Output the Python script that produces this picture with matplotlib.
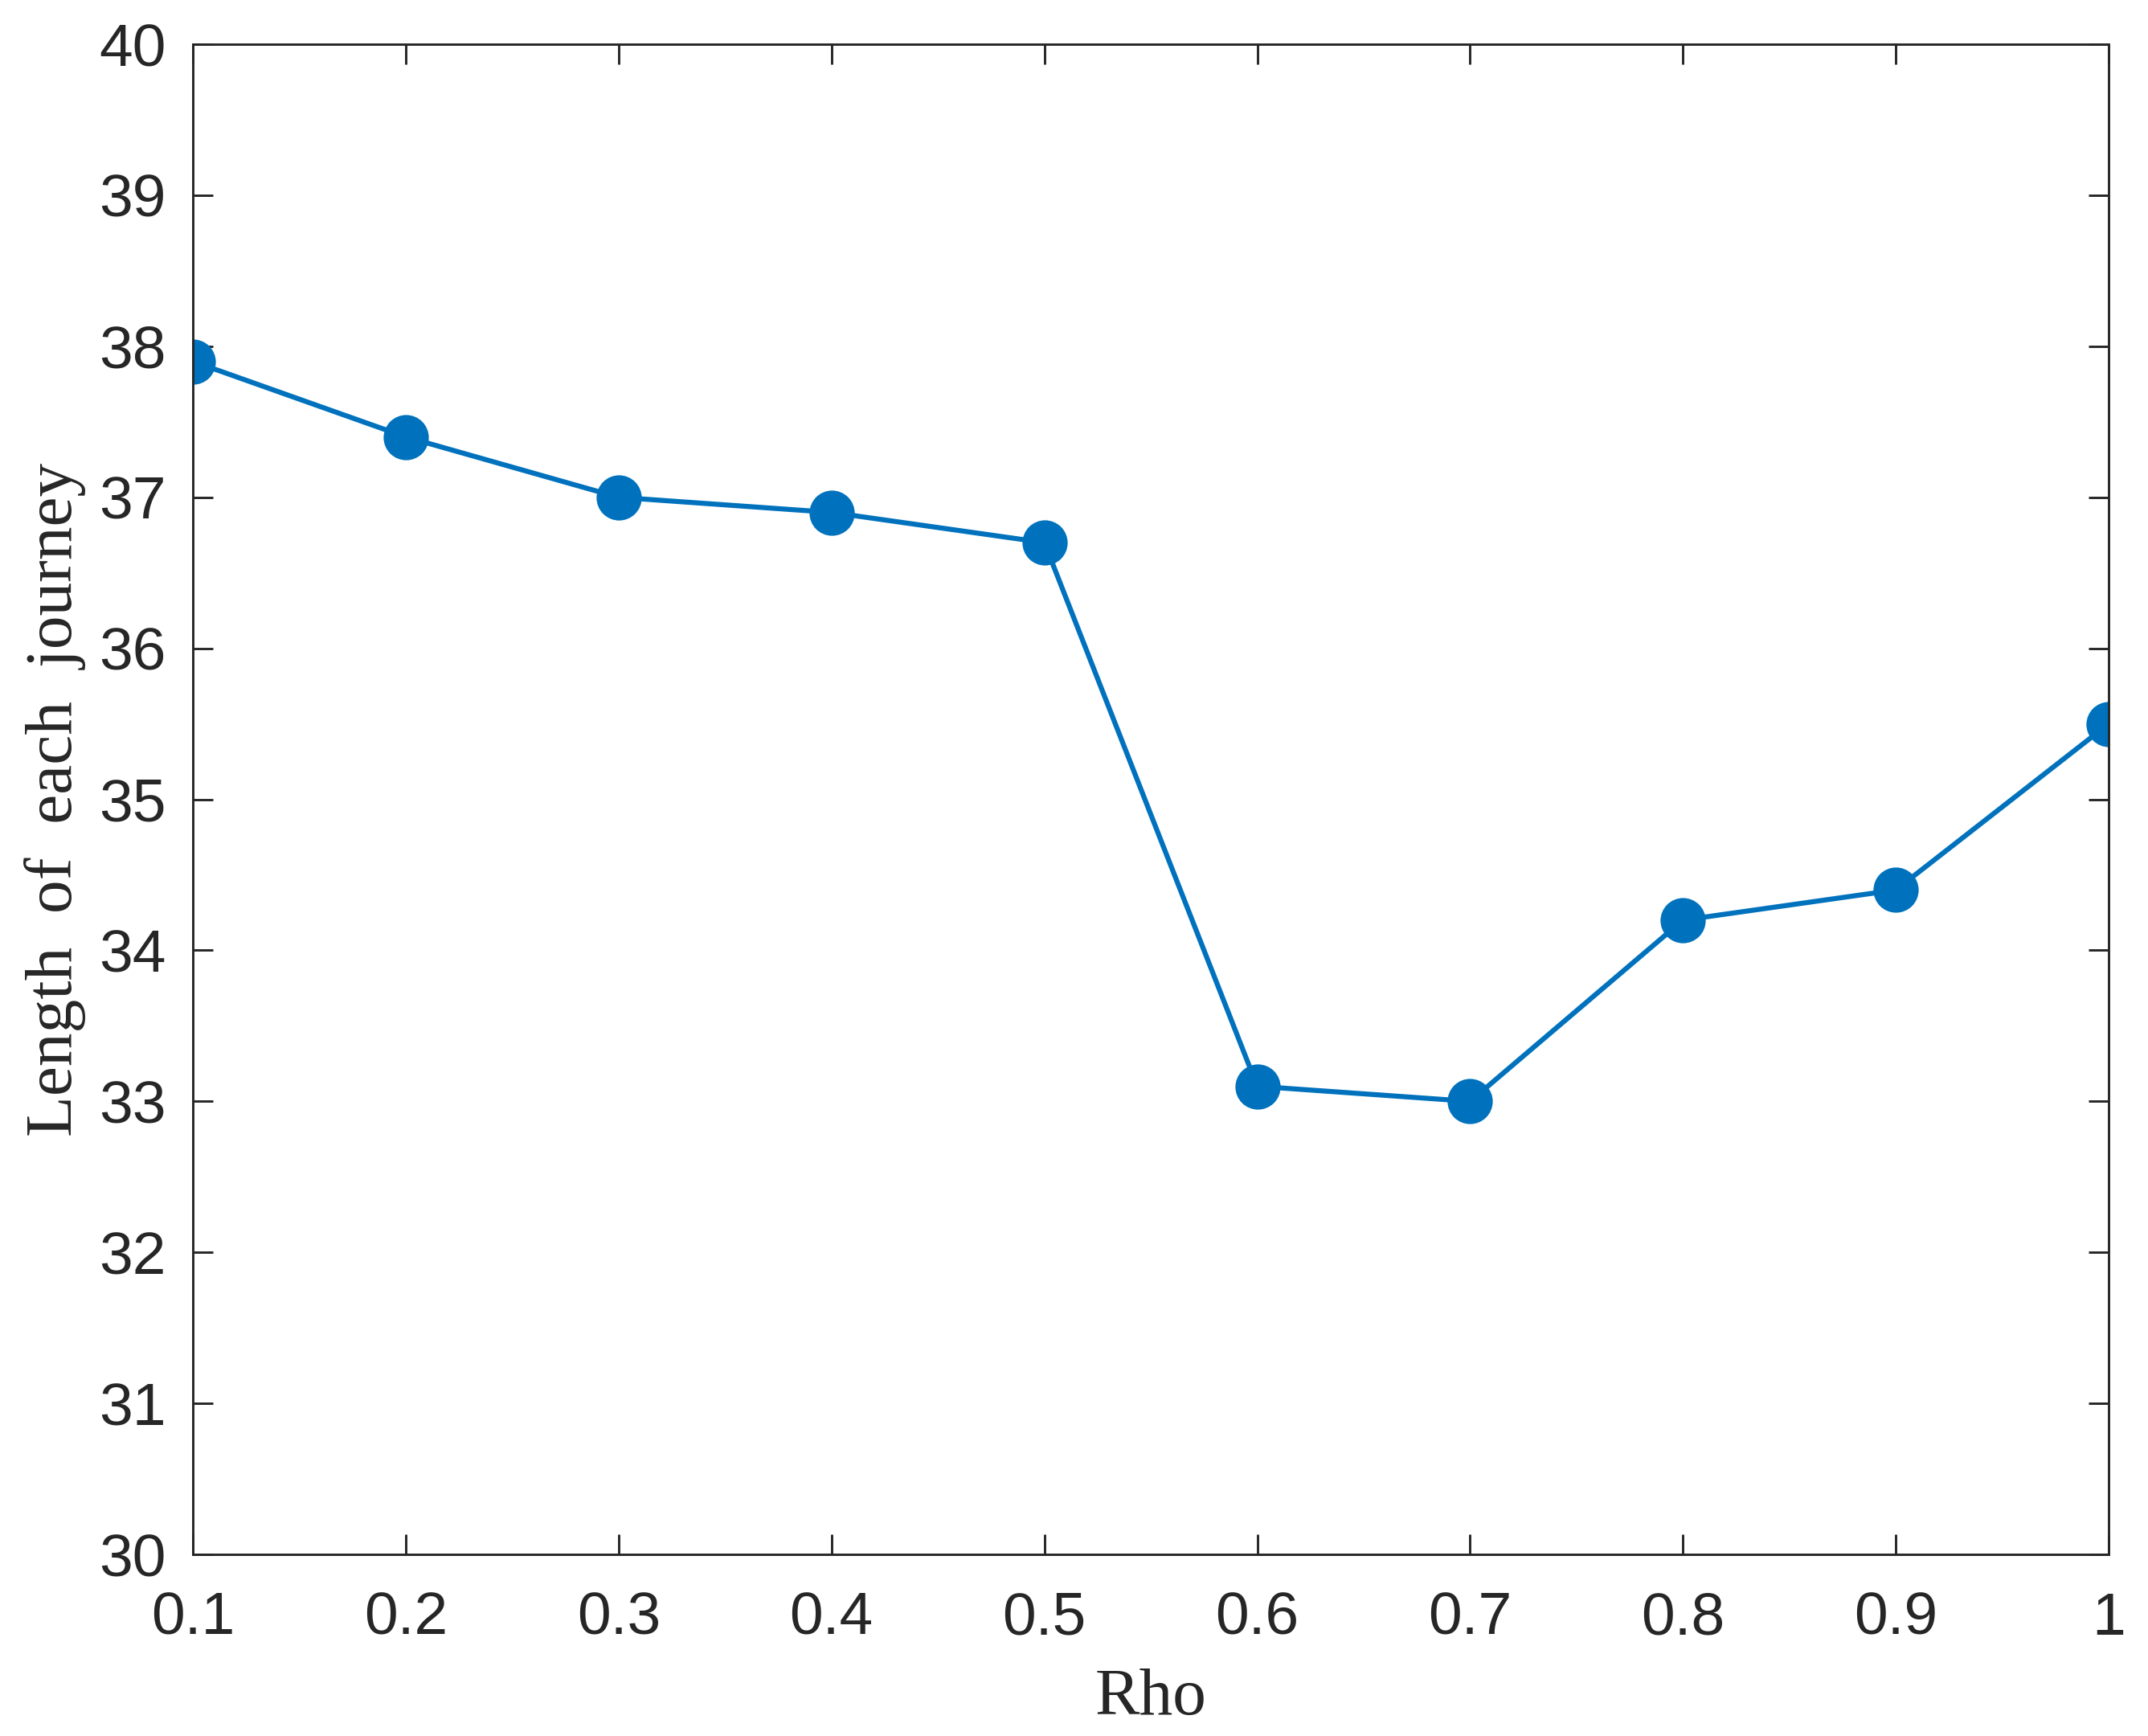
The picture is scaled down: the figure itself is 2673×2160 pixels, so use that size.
import numpy as np
import matplotlib.pyplot as plt

# values
rho = [0.1, 0.2, 0.3, 0.4, 0.5, 0.6, 0.7, 0.8, 0.9, 1.0]
length = [37.9, 37.4, 37.0, 36.9, 36.7, 33.1, 33.0, 34.2, 34.4, 35.5]
xtick_labels = ['0.1', '0.2', '0.3', '0.4', '0.5', '0.6', '0.7', '0.8', '0.9', '1']
yticks = list(range(30, 41))

fig = plt.figure(figsize=(2673 / 300, 2160 / 300), dpi=300)
ax = fig.add_axes([0.0898, 0.1046, 0.8919, 0.8699])

ax.plot(rho, length, color='#0072BD', linewidth=1.5, marker='o',
        markersize=12.5, markerfacecolor='#0072BD', markeredgecolor='#0072BD')

ax.set_xlim(0.1, 1.0)
ax.set_ylim(30, 40)
ax.set_xticks(rho)
ax.set_xticklabels(xtick_labels)
ax.set_yticks(yticks)

for s in ax.spines.values():
    s.set_linewidth(0.7)
    s.set_color('#262626')

ax.tick_params(direction='in', length=6, width=0.7, colors='#262626',
               top=True, right=True, labelsize=18)
ax.tick_params(axis='y', pad=8)
ax.tick_params(axis='x', pad=11)
for lab in ax.get_xticklabels() + ax.get_yticklabels():
    lab.set_fontfamily('Liberation Sans')

ax.set_xlabel('Rho', fontsize=20, family='Liberation Serif', color='#262626', labelpad=6.5)
ax.set_ylabel('Length  of  each  journey', fontsize=20, family='Liberation Serif',
              color='#262626', labelpad=4)

fig.savefig('out.png', dpi=300)
